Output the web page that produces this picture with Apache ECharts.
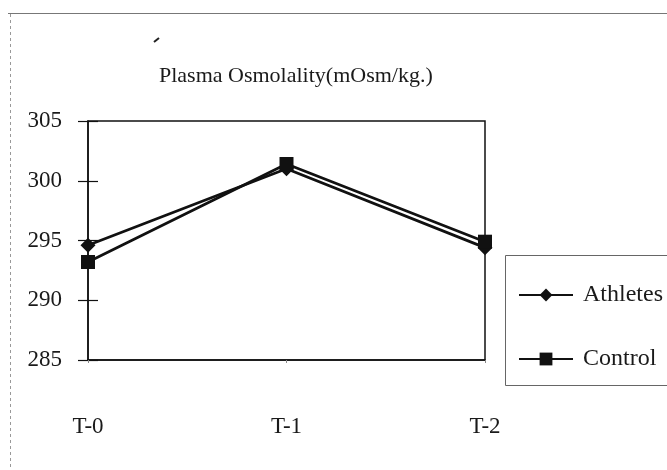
<!DOCTYPE html>
<html>
<head>
<meta charset="utf-8">
<script src="https://cdn.jsdelivr.net/npm/echarts@6/dist/echarts.min.js"></script>
<style>
  html, body { margin: 0; padding: 0; background: #fff; }
  #chart { width: 667px; height: 470px; }
</style>
</head>
<body>
<div id="chart"></div>
<script>
// Sampling times
const timePoints = ['T-0', 'T-1', 'T-2'];
// Mean plasma osmolality (mOsm/kg)
const athletes = [294.6, 301.0, 294.4];
const control = [293.2, 301.4, 294.9];
// Value axis range
const yMin = 285;
const yMax = 305;
const yStep = 5;

const serif = '"Liberation Serif", "Times New Roman", serif';
const chart = echarts.init(document.getElementById('chart'));

chart.setOption({
  backgroundColor: '#fff',
  animation: false,
  title: {
    text: 'Plasma Osmolality(mOsm/kg.)',
    left: 159,
    top: 65,
    padding: 0,
    textStyle: { fontFamily: serif, fontSize: 22, fontWeight: 'normal', color: '#1a1a1a' }
  },
  grid: {
    left: 88, right: 182, top: 121, bottom: 110,
    show: true, borderColor: '#111', borderWidth: 1.5, backgroundColor: '#fff'
  },
  legend: {
    orient: 'vertical',
    left: 518,
    top: 283,
    padding: 0,
    itemWidth: 54,
    itemHeight: 16,
    itemGap: 40,
    textStyle: { fontFamily: serif, fontSize: 24, color: '#1a1a1a', padding: [0, 0, 0, 5] },
    data: ['Athletes', 'Control']
  },
  xAxis: {
    type: 'category',
    data: timePoints,
    boundaryGap: false,
    axisLine: { lineStyle: { color: '#111', width: 1.5 } },
    axisTick: { show: true, length: 3, lineStyle: { color: '#888' } },
    axisLabel: { margin: 55, fontFamily: serif, fontSize: 23, color: '#1a1a1a' }
  },
  yAxis: [
    {
      type: 'value', min: yMin, max: yMax, interval: yStep,
      splitLine: { show: false },
      axisLine: { show: true, lineStyle: { color: '#111', width: 1.5 } },
      axisTick: { show: true, length: 10, lineStyle: { color: '#111', width: 1.2 } },
      axisLabel: { margin: 26, fontFamily: serif, fontSize: 23, color: '#1a1a1a' }
    },
    {
      type: 'value', min: yMin, max: yMax, interval: yStep, position: 'left',
      splitLine: { show: false },
      axisLine: { show: false },
      axisTick: { show: true, inside: true, length: 10, lineStyle: { color: '#111', width: 1.2 } },
      axisLabel: { show: false }
    }
  ],
  series: [
    {
      name: 'Athletes',
      type: 'line',
      data: athletes,
      symbol: 'diamond',
      symbolSize: 15,
      lineStyle: { color: '#111', width: 2.8 },
      itemStyle: { color: '#111' },
      z: 3
    },
    {
      name: 'Control',
      type: 'line',
      data: control,
      symbol: 'rect',
      symbolSize: 14,
      lineStyle: { color: '#111', width: 2.8 },
      itemStyle: { color: '#111' },
      z: 4
    }
  ],
  graphic: [
    // outer chart frame (top edge and left dashed edge)
    { type: 'line', shape: { x1: 8, y1: 13.5, x2: 667, y2: 13.5 }, style: { stroke: '#777', lineWidth: 1.2 } },
    { type: 'line', shape: { x1: 10.5, y1: 14, x2: 10.5, y2: 470 }, style: { stroke: '#999', lineWidth: 1, lineDash: [3, 3] } },
    // small pen stroke above the title
    { type: 'line', shape: { x1: 154, y1: 42, x2: 159, y2: 38 }, style: { stroke: '#222', lineWidth: 2 } },
    // legend frame
    { type: 'rect', shape: { x: 505.5, y: 255.5, width: 170, height: 130 }, style: { fill: 'none', stroke: '#666', lineWidth: 1 }, z: -1 }
  ]
});
</script>
</body>
</html>
